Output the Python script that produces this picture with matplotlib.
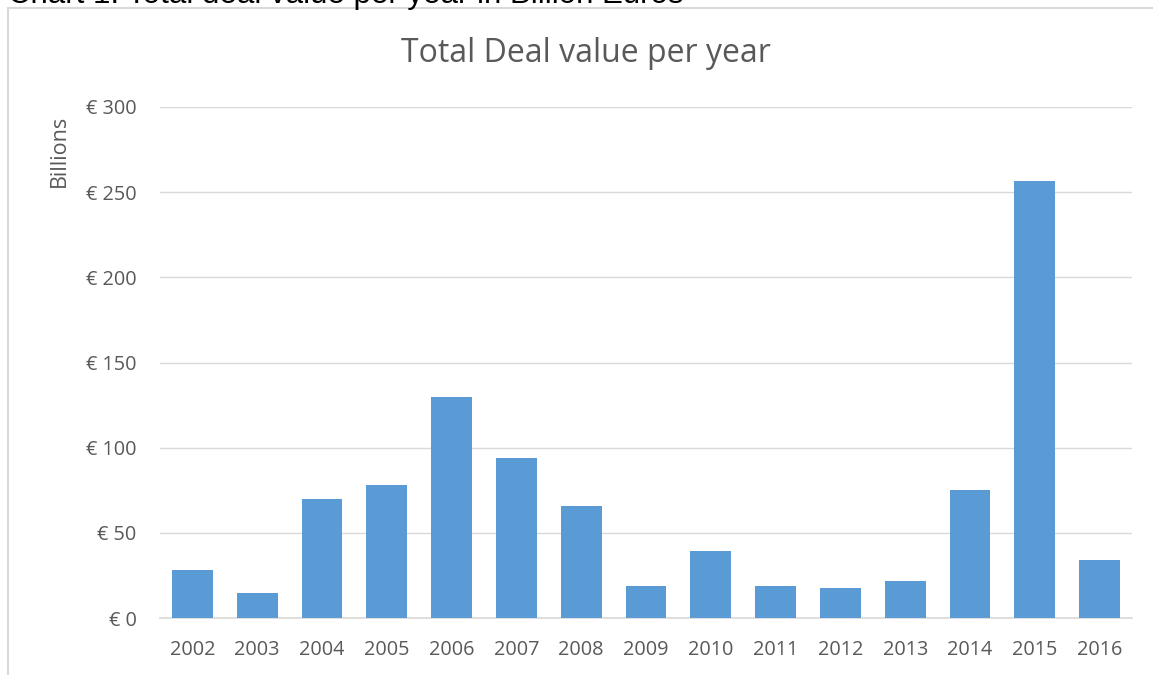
import matplotlib
matplotlib.use("Agg")
import matplotlib.pyplot as plt
from matplotlib.patches import Rectangle
from matplotlib.ticker import FixedLocator, FuncFormatter

years = ["2002", "2003", "2004", "2005", "2006", "2007", "2008", "2009",
         "2010", "2011", "2012", "2013", "2014", "2015", "2016"]
values = [28.2, 14.7, 69.9, 78.1, 129.8, 94.0, 65.8, 18.8,
          39.3, 18.8, 17.6, 21.7, 75.2, 256.6, 34.0]
yticks = [0, 50, 100, 150, 200, 250, 300]

W, H = 1153, 675
fig = plt.figure(figsize=(W / 100, H / 100), dpi=100)
fig.patch.set_facecolor("white")

# outer chart border
fig.add_artist(Rectangle((8 / W, -0.1), 1.2, 1 - 8 / H + 0.1, transform=fig.transFigure,
                         fill=False, edgecolor="#d9d9d9", linewidth=1.5))

# heading, cut off at the top edge as in the source
fig.text(8 / W, 1 - 2.5 / H, "Chart 1: Total deal value per year in Billion Euros",
         fontsize=22.5, family="Liberation Sans", color="black", ha="left", va="baseline")

ax = fig.add_axes([160 / W, 1 - 618 / H, (1132 - 160) / W, (618 - 107) / H])
x = range(len(years))
ax.bar(x, values, width=0.63, color="#5B9BD5", zorder=3)
ax.set_xlim(-0.5, len(years) - 0.5)
ax.set_ylim(0, 300)
ax.set_xticks(list(x))
ax.set_xticklabels(years)
ax.yaxis.set_major_locator(FixedLocator(yticks))
ax.yaxis.set_major_formatter(FuncFormatter(lambda v, p: f"€ {int(v)}"))
ax.grid(axis="y", color="#d9d9d9", linewidth=1, zorder=0)
for s in ["top", "right", "left"]:
    ax.spines[s].set_visible(False)
ax.spines["bottom"].set_color("#d9d9d9")
ax.spines["bottom"].set_linewidth(1.2)
ax.tick_params(axis="both", length=0, colors="#595959", labelsize=14.3)
ax.tick_params(axis="y", pad=17)
ax.tick_params(axis="x", pad=16)
for lab in ax.get_xticklabels() + ax.get_yticklabels():
    lab.set_family("Open Sans")

fig.text(586 / W, 1 - 54 / H, "Total Deal value per year", ha="center", va="center",
         fontsize=23, color="#595959", family="Open Sans")
fig.text(59 / W, 1 - 151 / H, "Billions", rotation=90, ha="center", va="center",
         fontsize=15.5, color="#595959", family="Open Sans")

fig.savefig("out.png", dpi=100)
